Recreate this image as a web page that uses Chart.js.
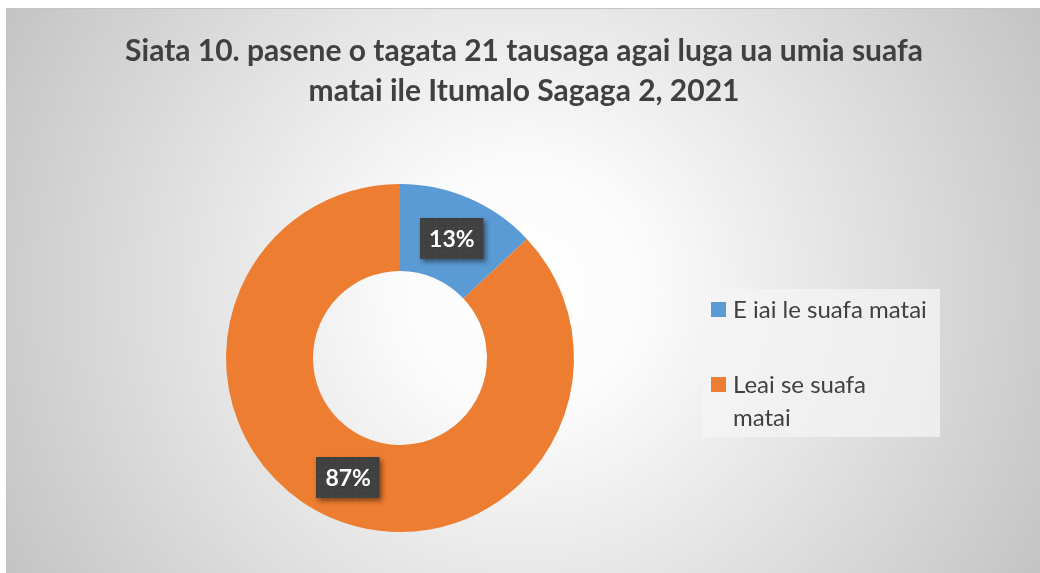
<!DOCTYPE html>
<html>
<head>
<meta charset="utf-8">
<script src="https://cdn.jsdelivr.net/npm/chart.js@4/dist/chart.umd.min.js"></script>
<style>
  html, body { margin: 0; padding: 0; background: #fff; overflow: hidden; }
  #wrap { width: 1040px; height: 573px; }
</style>
</head>
<body>
<div id="wrap"><canvas id="chart" width="1040" height="573"></canvas></div>
<script>
const titleLines = ['Siata 10. pasene o tagata 21 tausaga agai luga ua umia suafa', 'matai ile Itumalo Sagaga 2, 2021'];
const categories = ['E iai le suafa matai', 'Leai se suafa matai'];
const legendLines = [['E iai le suafa matai'], ['Leai se suafa', 'matai']];
const shares = [13, 87];
const sliceColors = ['#5B9BD5', '#ED7D31'];

// background panel with radial gradient
const backgroundPlugin = {
  id: 'panelBackground',
  beforeDraw(chart) {
    const ctx = chart.ctx;
    ctx.save();
    ctx.fillStyle = '#ffffff';
    ctx.fillRect(0, 0, chart.width, chart.height);
    const g = ctx.createRadialGradient(523, 290, 0, 523, 290, 620);
    g.addColorStop(0, '#ffffff');
    g.addColorStop(0.2, '#fbfbfb');
    g.addColorStop(1, '#c0c0c0');
    ctx.fillStyle = g;
    ctx.fillRect(6, 8, chart.width - 6, chart.height - 8);
    ctx.strokeStyle = '#c4c4c4';
    ctx.lineWidth = 1;
    ctx.beginPath();
    ctx.moveTo(6.5, chart.height);
    ctx.lineTo(6.5, 8.5);
    ctx.lineTo(chart.width, 8.5);
    ctx.stroke();
    ctx.restore();
  }
};

// title, value labels and legend
const decorPlugin = {
  id: 'decor',
  afterDatasetsDraw(chart) {
    const ctx = chart.ctx;
    ctx.save();
    // title
    ctx.fillStyle = '#404040';
    ctx.font = 'bold 30px Lato';
    ctx.textAlign = 'center';
    ctx.textBaseline = 'middle';
    titleLines.forEach((line, i) => ctx.fillText(line, 524, 51 + i * 40));

    // value labels
    const meta = chart.getDatasetMeta(0);
    const total = shares.reduce((a, b) => a + b, 0);
    ctx.font = 'bold 23px Lato';
    meta.data.forEach((arc, i) => {
      const p = arc.tooltipPosition();
      const txt = Math.round(shares[i] / total * 100) + '%';
      const w = ctx.measureText(txt).width + 18;
      const h = 41;
      const x = Math.round(p.x - w / 2), y = Math.round(p.y - h / 2);
      ctx.save();
      ctx.shadowColor = 'rgba(0,0,0,0.45)';
      ctx.shadowBlur = 5;
      ctx.shadowOffsetX = 2;
      ctx.shadowOffsetY = 3;
      ctx.fillStyle = '#404040';
      ctx.fillRect(x, y, w, h);
      ctx.restore();
      ctx.fillStyle = '#4d4d4d';
      for (let dx = 3; dx < w - 1; dx += 6) {
        for (let dy = 3; dy < h - 1; dy += 6) {
          ctx.fillRect(x + dx, y + dy, 1.5, 1.5);
        }
      }
      ctx.fillStyle = '#ffffff';
      ctx.textAlign = 'center';
      ctx.fillText(txt, p.x, p.y + 1);
    });

    // legend
    ctx.fillStyle = 'rgba(244,244,244,0.75)';
    ctx.fillRect(702, 289, 238, 148);
    ctx.font = '24px Lato';
    ctx.textAlign = 'left';
    const itemTop = [310, 385];
    legendLines.forEach((lines, i) => {
      ctx.fillStyle = sliceColors[i];
      ctx.fillRect(711, itemTop[i] - 8, 15, 15);
      ctx.fillStyle = '#404040';
      lines.forEach((ln, j) => ctx.fillText(ln, 733, itemTop[i] + j * 33));
    });
    ctx.restore();
  }
};

new Chart(document.getElementById('chart'), {
  type: 'doughnut',
  data: {
    labels: categories,
    datasets: [{
      data: shares,
      backgroundColor: sliceColors,
      borderWidth: 0
    }]
  },
  options: {
    responsive: false,
    animation: false,
    cutout: '50%',
    layout: { padding: { left: 226, right: 466, top: 143, bottom: 0 } },
    plugins: {
      legend: { display: false },
      title: { display: false },
      tooltip: { enabled: false }
    }
  },
  plugins: [backgroundPlugin, decorPlugin]
});
</script>
</body>
</html>
